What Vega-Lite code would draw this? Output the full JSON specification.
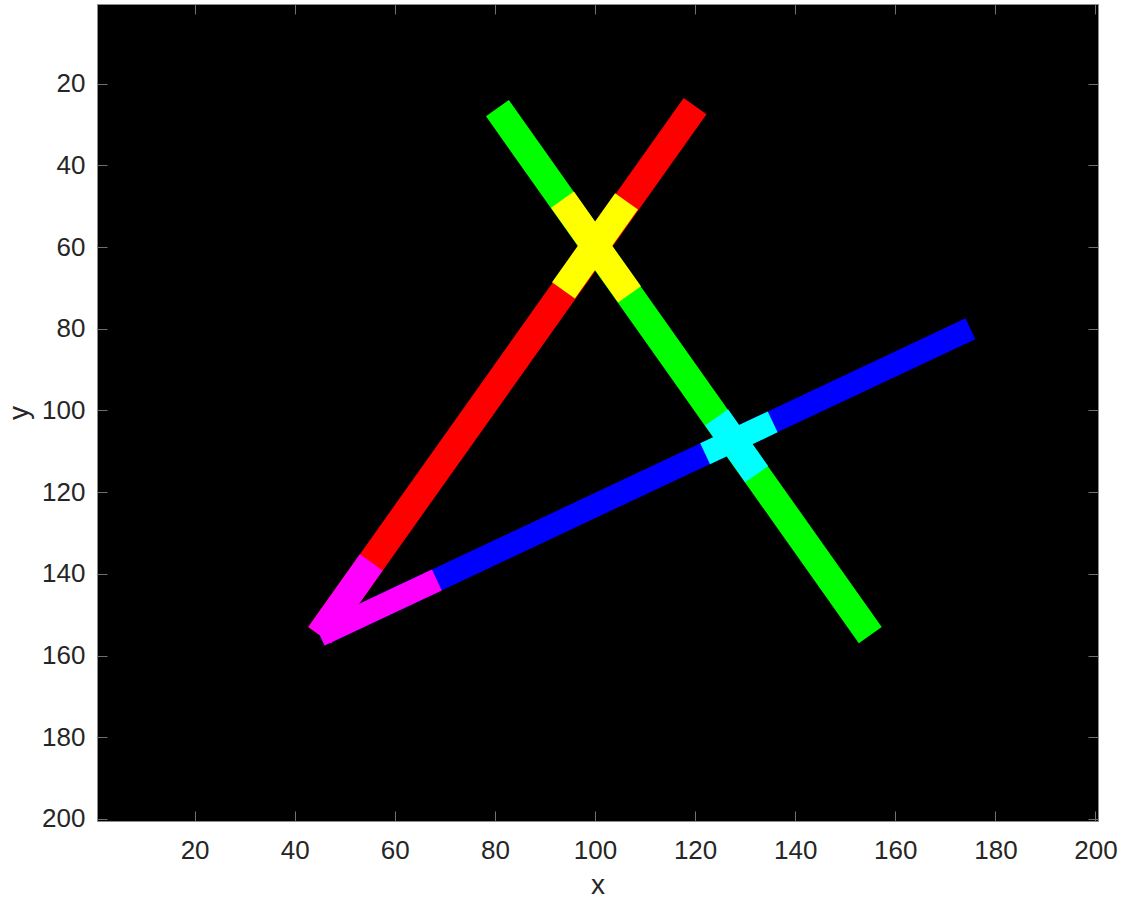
{
  "$schema": "https://vega.github.io/schema/vega-lite/v6.json",
  "autosize": "none",
  "width": 1001,
  "height": 817,
  "padding": {"left": 97, "top": 4, "right": 36, "bottom": 84},
  "background": "white",
  "config": {
    "view": {"fill": "black", "stroke": "#8c8c8c", "strokeWidth": 1},
    "axis": {
      "domain": false,
      "grid": false,
      "tickColor": "#707070",
      "tickSize": 10,
      "tickWidth": 1,
      "labelFont": "Liberation Sans",
      "labelFontSize": 26,
      "labelColor": "#262626",
      "titleFont": "Liberation Sans",
      "titleFontSize": 28,
      "titleFontWeight": "normal",
      "titleColor": "#262626"
    }
  },
  "data": {
    "values": [
      {"line": "red", "part": "R", "x": 45, "y": 155, "x2": 120, "y2": 25.5},
      {"line": "green", "part": "G", "x": 80.5, "y": 26, "x2": 155, "y2": 155},
      {"line": "blue", "part": "B", "x": 45, "y": 155, "x2": 175, "y2": 80},
      {"line": "red", "part": "Y", "x": 106.3, "y": 48.8, "x2": 93.7, "y2": 70.6},
      {"line": "green", "part": "Y", "x": 93.5, "y": 48.4, "x2": 106.9, "y2": 71.6},
      {"line": "green", "part": "C", "x": 124.3, "y": 101.7, "x2": 132.3, "y2": 115.6},
      {"line": "blue", "part": "C", "x": 122, "y": 110.6, "x2": 135.5, "y2": 102.8},
      {"line": "red", "part": "M", "x": 45, "y": 155, "x2": 55.3, "y2": 137.2},
      {"line": "blue", "part": "M", "x": 45, "y": 155, "x2": 68.4, "y2": 141.5}
    ]
  },
  "encoding": {
    "x": {"field": "x", "type": "quantitative", "scale": {"domain": [0.5, 200.5], "nice": false, "zero": false}},
    "x2": {"field": "x2"},
    "y": {"field": "y", "type": "quantitative", "scale": {"domain": [0.5, 200.5], "nice": false, "zero": false, "reverse": true}},
    "y2": {"field": "y2"},
    "color": {
      "field": "part", "type": "nominal", "legend": null,
      "scale": {"domain": ["R", "G", "B", "Y", "C", "M"], "range": ["#ff0000", "#00ff00", "#0000ff", "#ffff00", "#00ffff", "#ff00ff"]}
    }
  },
  "resolve": {"axis": {"x": "independent", "y": "independent"}},
  "layer": [
    {
      "transform": [{"filter": "datum.part == 'R' || datum.part == 'G'"}],
      "mark": {"type": "rule", "strokeWidth": 28, "strokeCap": "butt"},
      "encoding": {
        "x": {"field": "x", "type": "quantitative", "axis": {"orient": "bottom", "values": [20, 40, 60, 80, 100, 120, 140, 160, 180, 200], "title": "x", "tickOpacity": 0, "labelPadding": 6, "titlePadding": 8}},
        "y": {"field": "y", "type": "quantitative", "axis": {"orient": "left", "values": [20, 40, 60, 80, 100, 120, 140, 160, 180, 200], "title": "y", "tickOpacity": 0, "labelPadding": 2, "titlePadding": 8}}
      }
    },
    {
      "transform": [{"filter": "datum.part == 'B'"}],
      "mark": {"type": "rule", "strokeWidth": 23, "strokeCap": "butt"},
      "encoding": {
        "x": {"field": "x", "type": "quantitative", "axis": {"orient": "top", "offset": -10, "values": [20, 40, 60, 80, 100, 120, 140, 160, 180, 200], "labels": false, "title": null}},
        "y": {"field": "y", "type": "quantitative", "axis": {"orient": "right", "offset": -10, "values": [20, 40, 60, 80, 100, 120, 140, 160, 180, 200], "labels": false, "title": null}}
      }
    },
    {
      "transform": [{"filter": "datum.line != 'blue' && (datum.part == 'Y' || datum.part == 'C' || datum.part == 'M')"}],
      "mark": {"type": "rule", "strokeWidth": 28, "strokeCap": "butt"},
      "encoding": {
        "x": {"field": "x", "type": "quantitative", "axis": {"orient": "bottom", "offset": -10, "values": [20, 40, 60, 80, 100, 120, 140, 160, 180, 200], "labels": false, "title": null}},
        "y": {"field": "y", "type": "quantitative", "axis": {"orient": "left", "offset": -10, "values": [20, 40, 60, 80, 100, 120, 140, 160, 180, 200], "labels": false, "title": null}}
      }
    },
    {
      "transform": [{"filter": "datum.line == 'blue' && (datum.part == 'C' || datum.part == 'M')"}],
      "mark": {"type": "rule", "strokeWidth": 23, "strokeCap": "butt"},
      "encoding": {
        "x": {"field": "x", "type": "quantitative", "axis": null},
        "y": {"field": "y", "type": "quantitative", "axis": null}
      }
    }
  ]
}
